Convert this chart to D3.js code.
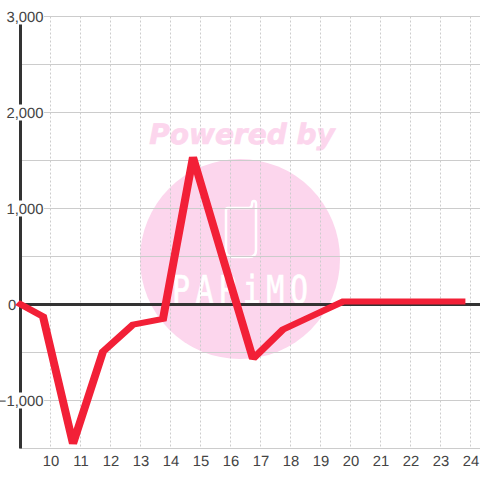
<!DOCTYPE html>
<meta charset="utf-8">
<style>
    html, body { margin: 0; padding: 0; background: #fff; }
    svg { display: block; }
    text { font-family: "Liberation Sans", sans-serif; text-rendering: geometricPrecision; }
    .tick-label { font-size: 14.8px; fill: #444; }
</style>
<script src="https://d3js.org/d3.v7.min.js"></script>

<body>
    <div id="chart"></div>
    <script>
        // values
        var hours = [8.9, 9.75, 10.75, 11.75, 12.75, 13.75, 14.75, 15.75, 16.75, 17.75, 18.75, 19.75, 20.75, 21.75, 22.75, 23.83];
        var amounts = [20, -125, -1450, -490, -210, -150, 1535, 480, -565, -260, -115, 30, 30, 30, 30, 30];
        var xTicks = [10, 11, 12, 13, 14, 15, 16, 17, 18, 19, 20, 21, 22, 23, 24];
        var yGrid = [3000, 2500, 2000, 1500, 1000, 500, 0, -500, -1000, -1500];
        var yLabels = [3000, 2000, 1000, -1000];

        var svg = d3.select("#chart").append("svg")
            .attr("width", 480)
            .attr("height", 480);

        var x = d3.scaleLinear().domain([9, 24]).range([20.5, 470.5]);
        var y = d3.scaleLinear().domain([3000, -1500]).range([16.5, 448.5]);
        var fmt = d3.format(",");

        // watermark sits under the grid
        var mark = svg.append("g");
        mark.append("text")
            .attr("x", 242).attr("y", 144)
            .attr("text-anchor", "middle")
            .style("font-family", "DejaVu Sans")
            .style("font-weight", "bold")
            .style("font-style", "italic")
            .style("font-size", "28px")
            .attr("fill", "#fcd6ed")
            .attr("stroke", "#fcd6ed")
            .attr("stroke-width", 0.7)
            .text("Powered by");
        mark.append("circle")
            .attr("cx", 240).attr("cy", 259).attr("r", 100)
            .attr("fill", "#fcd6ed");
        mark.append("path")
            .attr("d", "M228 208H249Q252 208 252 204Q252 201 254 201Q256 201 256 204V250Q256 257 249 257H233Q226 257 226 250V210Q226 208 228 208Z")
            .attr("fill", "none")
            .attr("stroke", "#fff")
            .attr("stroke-width", 2.5);
        mark.append("text")
            .attr("transform", "translate(172,303) scale(1,1.28)")
            .attr("textLength", 136)
            .attr("lengthAdjust", "spacing")
            .style("font-family", "DejaVu Sans Mono")
            .style("font-size", "30px")
            .attr("fill", "#fff")
            .attr("stroke", "#fff")
            .attr("stroke-width", 0.5)
            .text("PARiMO");

        // grid
        svg.append("g").selectAll("line").data(xTicks).join("line")
            .attr("x1", d => x(d)).attr("x2", d => x(d))
            .attr("y1", y(3000)).attr("y2", y(-1500))
            .attr("stroke", "#ccc")
            .attr("stroke-dasharray", "2,2");
        svg.append("g").selectAll("line").data(yGrid).join("line")
            .attr("x1", 20).attr("x2", 480)
            .attr("y1", d => y(d)).attr("y2", d => y(d))
            .attr("stroke", "#ccc");

        // axes
        svg.append("line")
            .attr("x1", 20).attr("x2", 480)
            .attr("y1", y(0)).attr("y2", y(0))
            .attr("stroke", "#333").attr("stroke-width", 3);
        svg.append("line")
            .attr("x1", x(9)).attr("x2", x(9))
            .attr("y1", y(3000)).attr("y2", y(-1500))
            .attr("stroke", "#333").attr("stroke-width", 3);

        // y labels have a white box that cuts the axis
        var labels = svg.append("g").selectAll("g").data(yLabels).join("g");
        labels.append("rect")
            .attr("x", d => d < 0 ? 2 : 6).attr("y", d => y(d) - 8)
            .attr("width", d => d < 0 ? 42 : 38).attr("height", 16)
            .attr("fill", "#fff");
        labels.append("text")
            .attr("class", "tick-label")
            .attr("x", 43.5).attr("y", d => y(d) + 5)
            .attr("text-anchor", "end")
            .text(d => fmt(d));
        svg.append("text")
            .attr("class", "tick-label")
            .attr("x", 12).attr("y", y(0) + 5)
            .attr("text-anchor", "middle")
            .text("0");

        svg.append("g").selectAll("text").data(xTicks).join("text")
            .attr("class", "tick-label")
            .attr("x", d => x(d) + 0.5).attr("y", 466)
            .attr("text-anchor", "middle")
            .text(d => d);

        // series: pen is wider than tall, so stroke inside a group stretched in x
        var penStretch = 1.35;
        var line = d3.line()
            .x((d, i) => x(hours[i]) / penStretch)
            .y(d => y(d));
        svg.append("g")
            .attr("transform", "scale(" + penStretch + ",1)")
            .append("path")
            .datum(amounts)
            .attr("fill", "none")
            .attr("stroke", "#f22037")
            .attr("stroke-width", 6)
            .attr("stroke-linejoin", "miter")
            .attr("stroke-miterlimit", 2)
            .attr("d", line);
    </script>
</body>
